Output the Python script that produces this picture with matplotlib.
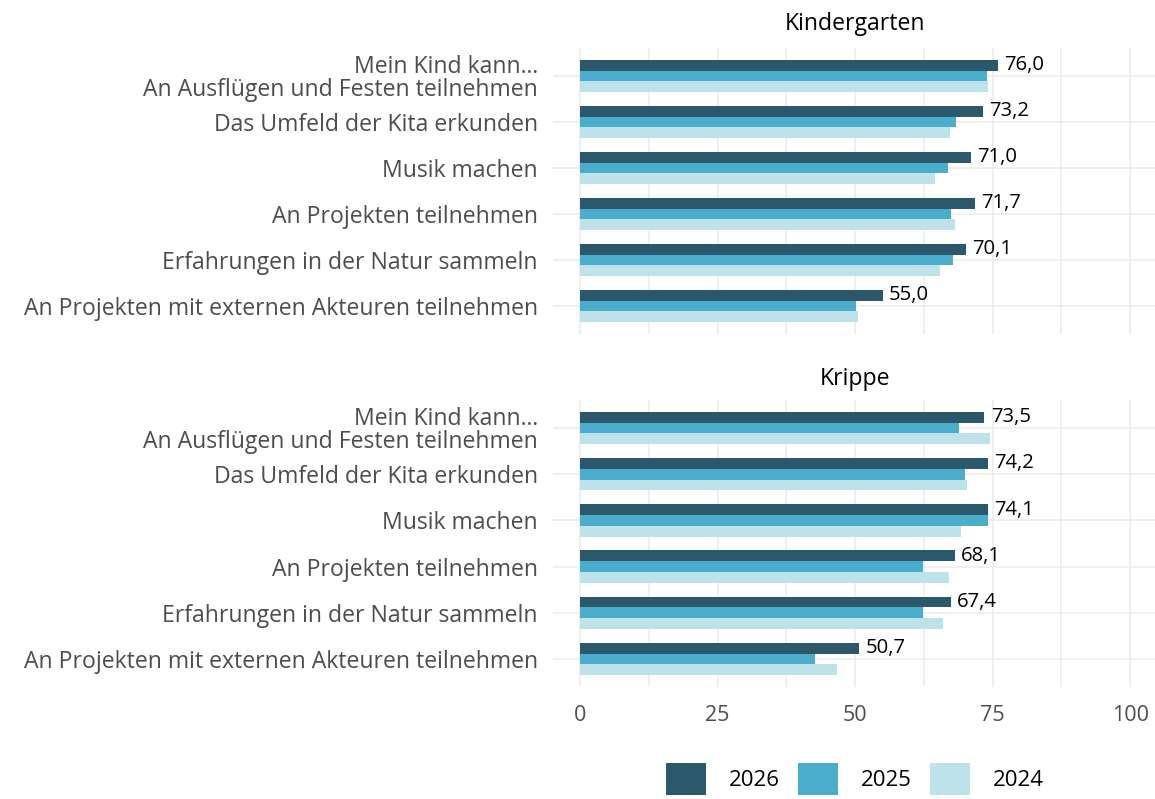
import matplotlib
matplotlib.use("Agg")
import matplotlib.pyplot as plt
from matplotlib.patches import Patch
import numpy as np

plt.rcParams['font.family'] = ['Open Sans', 'DejaVu Sans']

categories = [
    "Mein Kind kann...\nAn Ausflügen und Festen teilnehmen",
    "Das Umfeld der Kita erkunden",
    "Musik machen",
    "An Projekten teilnehmen",
    "Erfahrungen in der Natur sammeln",
    "An Projekten mit externen Akteuren teilnehmen",
]
years = ["2026", "2025", "2024"]
colors = ["#2B596B", "#49ADCB", "#BDE2EA"]

kiga_2026 = [76.0, 73.2, 71.0, 71.7, 70.1, 55.0]
kiga_2025 = [73.9, 68.3, 66.8, 67.4, 67.7, 50.1]
kiga_2024 = [74.2, 67.2, 64.6, 68.1, 65.5, 50.5]

krippe_2026 = [73.5, 74.2, 74.1, 68.1, 67.4, 50.7]
krippe_2025 = [68.8, 69.9, 74.1, 62.3, 62.4, 42.7]
krippe_2024 = [74.6, 70.4, 69.3, 67.0, 65.9, 46.7]

panels = [
    ("Kindergarten", [kiga_2026, kiga_2025, kiga_2024]),
    ("Krippe", [krippe_2026, krippe_2025, krippe_2024]),
]

W, H = 1155, 799
fig = plt.figure(figsize=(W / 100, H / 100), dpi=100)

left_px, right_px = 552.5, 1155
panel_px = [(48.4, 333.6), (400.3, 686.7)]
title_y = [24, 379]

grid_c = "#EBEBEB"
bh = 0.7 / 3
y = np.arange(len(categories))

for i, ((title, series), (top, bot)) in enumerate(zip(panels, panel_px)):
    ax = fig.add_axes([left_px / W, 1 - bot / H, (right_px - left_px) / W, (bot - top) / H])
    for j, (vals, col) in enumerate(zip(series, colors)):
        ax.barh(y + (j - 1) * bh, vals, height=bh, color=col, zorder=3)
    for yy, v in zip(y, series[0]):
        ax.annotate(f"{v:.1f}".replace(".", ","), xy=(v, yy - bh), xytext=(4.5, 0),
                    textcoords="offset points", va="center", ha="left",
                    fontsize=14.6, color="black", zorder=4)
    ax.set_xlim(-5, 104.5)
    ax.set_ylim(len(categories) - 0.4, -0.6)
    ax.set_yticks(y)
    ax.set_yticklabels(categories, fontsize=16.6, color="#4D4D4D", linespacing=0.92)
    ax.set_xticks([0, 25, 50, 75, 100])
    ax.set_xticks([12.5, 37.5, 62.5, 87.5], minor=True)
    ax.tick_params(axis="both", which="both", length=0)
    ax.tick_params(axis="y", pad=10.5)
    ax.tick_params(axis="x", pad=13, labelsize=15.5, labelcolor="#4D4D4D")
    if i == 0:
        ax.set_xticklabels([])
    ax.grid(True, which="major", axis="both", color=grid_c, lw=1.1, zorder=0)
    ax.grid(True, which="minor", axis="x", color=grid_c, lw=1.1, zorder=0)
    for s in ax.spines.values():
        s.set_visible(False)
    ax.set_axisbelow(True)
    fig.text(855 / W, 1 - title_y[i] / H, title, ha="center", va="center",
             fontsize=16.6, color="black")

handles = [Patch(facecolor=c, edgecolor="none") for c in colors]
fig.legend(handles, years, loc="center", bbox_to_anchor=(855 / W, 1 - 779 / H),
           ncol=3, frameon=False, fontsize=16, handlelength=1.8, handleheight=1.8,
           handletextpad=1.0, columnspacing=0.85, borderpad=0, borderaxespad=0)

fig.savefig("out.png", dpi=100)
